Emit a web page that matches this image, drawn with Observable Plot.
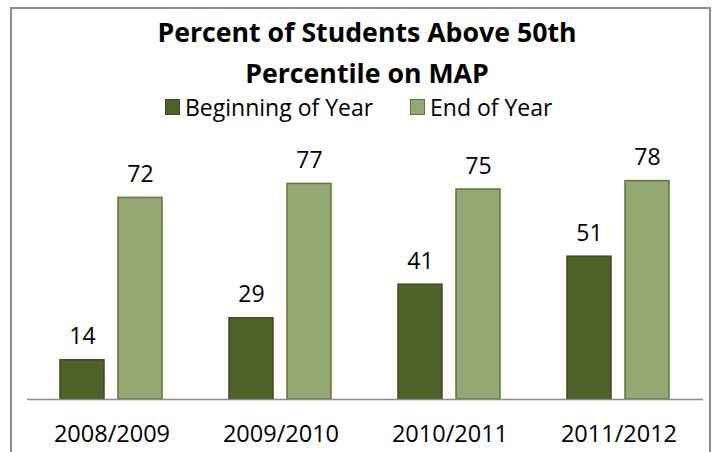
<!DOCTYPE html>
<html>
<head>
<meta charset="utf-8">
<script src="https://cdn.jsdelivr.net/npm/d3@7"></script>
<script src="https://cdn.jsdelivr.net/npm/@observablehq/plot@0.6"></script>
<style>
  html, body { margin: 0; padding: 0; background: #fff; }
  #wrap { position: relative; width: 717px; height: 452px; overflow: hidden; background: #fff; font-family: 'Open Sans', sans-serif; }
  #frame { position: absolute; left: 10px; top: 7px; width: 701px; height: 470px; border: 2px solid #8c8c8c; box-sizing: border-box; }
  #title { position: absolute; left: 0; top: 11px; width: 734px; text-align: center; font-weight: bold; font-size: 26.7px; line-height: 41px; color: #000; }
  #legend { position: absolute; left: 0; top: 92px; width: 717px; height: 30px; font-size: 23px; color: #000; }
  .item { position: absolute; top: 0; display: flex; align-items: center; height: 30px; }
  .sw { width: 15px; height: 16px; box-sizing: border-box; border: 1.5px solid; margin-right: 5px; }
  #chart { position: absolute; left: 0; top: 0; }
</style>
</head>
<body>
<div id="wrap">
  <div id="frame"></div>
  <div id="title"></div>
  <div id="legend"></div>
  <div id="chart"></div>
</div>
<script>
const titleLines = ["Percent of Students Above 50th", "Percentile on MAP"];
const years = ["2008/2009", "2009/2010", "2010/2011", "2011/2012"];
const series = ["Beginning of Year", "End of Year"];
const beginning = [14, 29, 41, 51];
const endOfYear = [72, 77, 75, 78];
const fills = ["#4f6228", "#93a873"];
const strokes = ["#3a4a1c", "#5d7a30"];
const legendLefts = [165, 410];

const data = years.flatMap((y, i) => [
  {year: y, series: series[0], value: beginning[i]},
  {year: y, series: series[1], value: endOfYear[i]}
]);

document.getElementById("title").innerHTML = titleLines.map(t => `<div>${t}</div>`).join("");
const legend = document.getElementById("legend");
series.forEach((s, i) => {
  const it = document.createElement("div");
  it.className = "item";
  it.style.left = legendLefts[i] + "px";
  it.innerHTML = `<span class="sw" style="background:${fills[i]};border-color:${strokes[i]}"></span><span>${s}</span>`;
  legend.appendChild(it);
});

const chart = Plot.plot({
  width: 717,
  height: 452,
  marginTop: 119,
  marginBottom: 53,
  marginLeft: 27,
  marginRight: 14,
  style: {fontFamily: "'Open Sans', sans-serif", background: "transparent", color: "#000", overflow: "visible"},
  fx: {domain: years, padding: 0, label: null, axis: null},
  x: {domain: series, paddingInner: 0.233, paddingOuter: 0.573, axis: null},
  y: {domain: [0, 100], axis: null},
  marks: [
    ...series.map((s, i) => Plot.barY(data.filter(d => d.series === s), {
      fx: "year", x: "series", y: "value",
      fill: fills[i], stroke: strokes[i], strokeWidth: 1.5
    })),
    Plot.ruleY([0], {stroke: "#8c8c8c", strokeWidth: 1.5}),
    Plot.text(data, {
      fx: "year", x: "series", y: "value", text: "value",
      dy: -16, lineAnchor: "bottom", fontSize: 23, fill: "#000"
    }),
    Plot.axisFx({anchor: "bottom", tickSize: 0, tickPadding: 26, fontSize: 23.5, label: null, fill: "#000"})
  ]
});
document.getElementById("chart").appendChild(chart);
</script>
</body>
</html>
